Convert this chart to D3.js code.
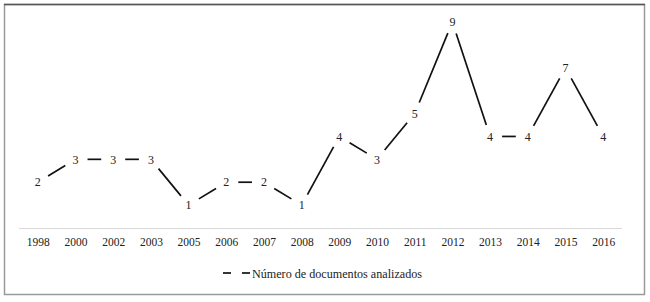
<!DOCTYPE html>
<html><head><meta charset="utf-8">
<script src="https://cdn.jsdelivr.net/npm/d3@7"></script>
<style>body{margin:0;background:#fff}svg{display:block}svg text{font-family:"Liberation Serif","Times New Roman","DejaVu Serif",serif !important;fill:#222}</style>
</head><body><svg id="c" width="650" height="302" font-family="Liberation Serif, serif"></svg>
<script>
const years = ["1998","2000","2002","2003","2005","2006","2007","2008","2009","2010","2011","2012","2013","2014","2015","2016"];
const values = [2,3,3,3,1,2,2,1,4,3,5,9,4,4,7,4];
const seriesName = "Número de documentos analizados";
const FONT = "'Liberation Serif', 'Times New Roman', serif";

const svg = d3.select("#c");
// frame
svg.append("rect").attr("x",4.5).attr("y",4.5).attr("width",640).attr("height",290)
  .attr("fill","none").attr("stroke","#9a9a9a").attr("stroke-width",1.5);
svg.append("line").attr("x1",4).attr("x2",645).attr("y1",4.5).attr("y2",4.5).attr("stroke","#555").attr("stroke-width",1.5);

const x = d3.scalePoint().domain(years).range([19,622]).padding(0.5);
const y = d3.scaleLinear().domain([0,9]).range([228,22]);

const ax = svg.append("g").attr("transform","translate(0,228)")
  .call(d3.axisBottom(x).tickSize(0).tickPadding(10));
ax.attr("font-family",FONT);
ax.select(".domain").attr("stroke","#d9d9d9").attr("d","M19,0.5H622");
ax.selectAll("text").attr("font-size","11.5px").style("font-family",FONT).attr("fill","#222");

const pts = years.map((yr,i)=>({x:x(yr), y:y(values[i]), v:values[i]}));
const gap = 12;
const g = svg.append("g");
for(let i=0;i<pts.length-1;i++){
  const a=pts[i], b=pts[i+1];
  const dx=b.x-a.x, dy=b.y-a.y, L=Math.hypot(dx,dy);
  const ux=dx/L, uy=dy/L;
  g.append("line").attr("x1",a.x+ux*gap).attr("y1",a.y+uy*gap)
    .attr("x2",b.x-ux*gap).attr("y2",b.y-uy*gap)
    .attr("stroke","#111").attr("stroke-width",1.7);
}
svg.append("g").selectAll("text").data(pts).join("text")
  .attr("x",d=>d.x).attr("y",d=>d.y).attr("text-anchor","middle").attr("dy","0.35em")
  .style("font-family",FONT).attr("font-size","12px").text(d=>d.v);

// legend
const lg = svg.append("g");
lg.append("line").attr("x1",223).attr("x2",231).attr("y1",273).attr("y2",273).attr("stroke","#111").attr("stroke-width",1.7);
lg.append("line").attr("x1",242).attr("x2",250).attr("y1",273).attr("y2",273).attr("stroke","#111").attr("stroke-width",1.7);
lg.append("text").attr("x",252).attr("y",273).attr("dy","0.35em").attr("font-size","13px")
  .style("font-family",FONT)
  .attr("textLength",170).attr("lengthAdjust","spacingAndGlyphs").text(seriesName);
</script></body></html>
